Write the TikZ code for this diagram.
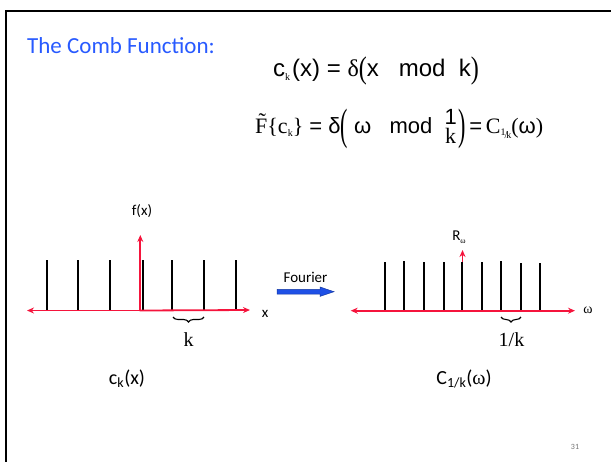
\documentclass[tikz,border=0pt]{standalone}
\usepackage{fix-cm}
\usepackage{fontspec}
\usepackage{graphicx}
\setmainfont{Carlito}
\newfontfamily\arialf{Liberation Sans}
\newfontfamily\timesf{Liberation Serif}
\usetikzlibrary{arrows.meta,decorations.pathreplacing}
\definecolor{axisred}{RGB}{245,20,60}
\definecolor{titleblue}{RGB}{40,90,255}
\definecolor{arrowblue}{RGB}{30,80,230}
\newcommand{\smallsub}[2][-4pt]{\raisebox{#1}{\fontsize{10}{10}\selectfont\timesf #2}}
\newcommand{\tallparen}[1]{\raisebox{-6pt}{\scalebox{1}[2]{\timesf #1}}}
\begin{document}
\begin{tikzpicture}[x=1pt,y=-1pt,
  axisline/.style={draw=axisred, line width=1.8pt, -{Stealth[length=7pt,width=6pt]}},
  spike/.style={draw=black, line width=2.3pt},
  bracedown/.style={draw=black, line width=1.1pt, decorate, decoration={brace,mirror,amplitude=5pt}},
  lbl/.style={inner sep=0pt, font=\fontsize{15}{18}\selectfont},
  serif/.style={inner sep=0pt, font=\fontsize{20}{24}\selectfont\timesf},
  eq/.style={inner sep=0pt, font=\fontsize{24}{28}\selectfont\arialf},
  eqsmall/.style={inner sep=0pt, font=\fontsize{22}{26}\selectfont\arialf},
  frameline/.style={draw=black, line width=2pt}]
\useasboundingbox (0,0) rectangle (611,461);
% frame
\draw[frameline] (5.7,470) -- (5.7,11) -- (620,11);
% title and equations
\node[inner sep=0pt, anchor=west, text=titleblue, font=\fontsize{23}{28}\selectfont] (title) at (27,46) {The Comb Function:};
\node[eq] (eqa) at (376,71) {c\smallsub{k}\kern2pt(x) = {\timesf δ}\raisebox{-2pt}{\scalebox{1}[1.3]{\timesf (}}x\ \ \ mod\ \ k\raisebox{-2pt}{\scalebox{1}[1.3]{\timesf )}}};
\node[eqsmall, anchor=base west] (eqb) at (255,133) {{\timesf\~{F}\{c\smallsub[-3pt]{k}\}} = δ\tallparen{(}\ ω\ \ \ mod\ \ \raisebox{-10pt}{\shortstack{1\\\timesf k}}\kern1.5pt\tallparen{)}\,=\,{\timesf C}\raisebox{-5pt}{\fontsize{10}{10}\selectfont\timesf\raisebox{3pt}{1}\kern-1pt/\kern-1pt k}{\timesf(}ω{\timesf)}};
% left plot
\coordinate (lo) at (139.5,310.5);
\coordinate (ll) at (27,310.5);
\coordinate (lr) at (250,310);
\coordinate (lt) at (140.3,235);
\draw[axisline] (140.3,311) -- (lt);
\foreach \xx in {46.7,77.7,110,143,171.7,204,235.7}
  \draw[spike] (\xx,260) -- (\xx,310.5);
\draw[axisline] (lo) -- (ll);
\draw[axisline] (lo) -- (lr);
\node[lbl] (fx) at (142,211) {f(x)};
\node[lbl] (xl) at (265,314) {x};
\coordinate (b1a) at (173,317);
\coordinate (b1b) at (204,317);
\draw[bracedown] (b1a) -- (b1b);
\node[serif] (klbl) at (188.5,340) {k};
% Fourier arrow
\fill[arrowblue, draw=arrowblue!70!black, line width=0.5pt]
  (277,289.3) -- (320,289.3) -- (320,287) -- (334,291.7) -- (320,296.4) -- (320,294) -- (277,294) -- cycle;
\node[lbl] (fourier) at (305.5,277) {Fourier};
% right plot
\coordinate (ro) at (462,310.7);
\coordinate (rl) at (350.7,310.7);
\coordinate (rr) at (575,310.7);
\coordinate (rt) at (462.5,250);
\draw[axisline] (462.5,311) -- (rt);
\foreach \xx/\yy in {384.7/262,404/261,423.7/262,444/262,462/262,482/262,500.7/261,520.7/263,540/263}
  \draw[spike] (\xx,\yy) -- (\xx,310.7);
\draw[axisline] (ro) -- (rl);
\draw[axisline] (ro) -- (rr);
\node[lbl] (romega) at (459,237) {R\raisebox{-3pt}{\fontsize{8}{8}\selectfont\timesf ω}};
\node[inner sep=0pt, font=\fontsize{14}{16}\selectfont\timesf] (wl) at (588,310) {ω};
\coordinate (b2a) at (501,317);
\coordinate (b2b) at (521,317);
\draw[bracedown] (b2a) -- (b2b);
\node[serif] (invk) at (511.5,340) {1/k};
% bottom labels
\node[inner sep=0pt, font=\fontsize{20}{24}\selectfont] (ckx) at (127,379) {c\textsubscript{k}(x)};
\node[inner sep=0pt, font=\fontsize{20}{24}\selectfont] (cw) at (464,379) {C\textsubscript{1/k}({\timesf ω})};
\node[inner sep=0pt, text=black!55, font=\fontsize{8}{10}\selectfont] (pg) at (575,447) {31};
\end{tikzpicture}
\end{document}
